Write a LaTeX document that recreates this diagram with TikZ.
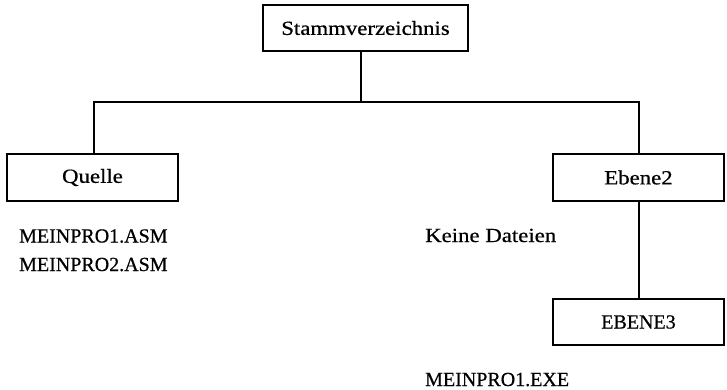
\documentclass[tikz,border=0pt]{standalone}
\usepackage{fontspec}
\setmainfont{Liberation Serif}[FakeBold=0.6]
\newfontfamily\widefont{Liberation Serif}[FakeStretch=1.14,FakeBold=0.6]
\begin{document}
\begin{tikzpicture}[x=1pt,y=-1pt,
  box/.style={draw, line width=1.1pt, inner sep=0pt, outer sep=0pt, font=\fontsize{20}{24}\selectfont},
  wide/.style={font=\widefont\fontsize{20}{24}\selectfont},
  lbl/.style={anchor=base west, inner sep=0pt, font=\fontsize{20}{24}\selectfont},
  conn/.style={line width=1.1pt}]
\useasboundingbox (0,0) rectangle (727,390);
\node[box, wide, minimum width=205pt, minimum height=46pt] (root) at (365.5,28) {Stammverzeichnis};
\node[box, wide, minimum width=171pt, minimum height=47pt] (quelle) at (92.5,177.5) {Quelle};
\node[box, wide, minimum width=171pt, minimum height=47pt] (ebene2) at (638.5,177.5) {Ebene2};
\node[box, minimum width=171pt, minimum height=46pt] (ebene3) at (638.5,322) {EBENE3};
\coordinate (hub) at (361,102);
\coordinate (lhub) at (94,102);
\coordinate (rhub) at (639,102);
\draw[conn] (root.south -| hub) -- (hub);
\draw[conn] (quelle.north -| lhub) -- (lhub) -- (rhub) -- (ebene2.north -| rhub);
\draw[conn] (ebene2.south -| rhub) -- (ebene3.north -| rhub);
\node[lbl] (f1) at (19,242.5) {MEINPRO1.ASM};
\node[lbl] (f2) at (19,271) {MEINPRO2.ASM};
\node[lbl, wide] (kd) at (425,242) {Keine Dateien};
\node[lbl] (f3) at (425,386) {MEINPRO1.EXE};
\end{tikzpicture}
\end{document}
